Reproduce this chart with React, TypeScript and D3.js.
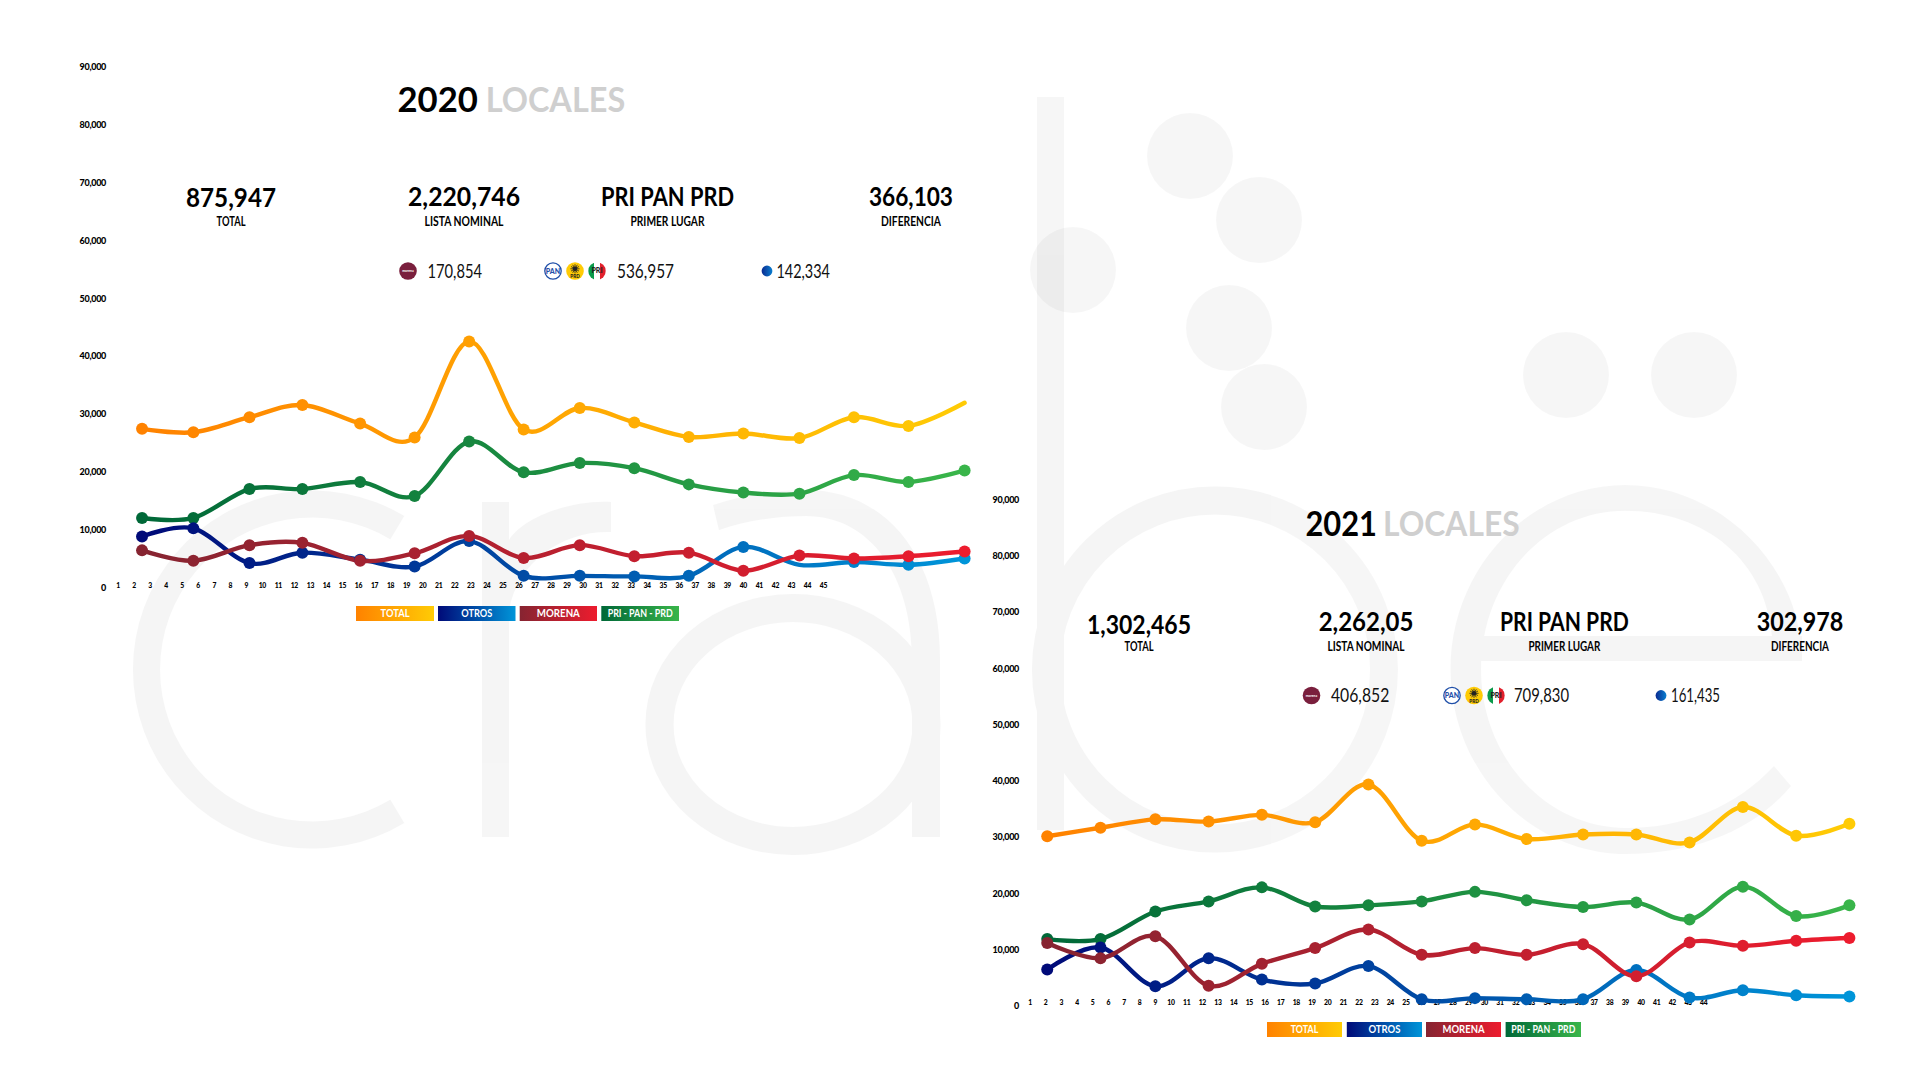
import * as d3 from 'd3';

// series, in thousands of votes
const total2020 = [27.5, 26.9, 29.5, 31.6, 28.4, 26.0, 42.6, 27.4, 31.1, 28.6, 26.1, 26.7, 25.9, 29.5, 28.0, 32.0];
const alianza2020 = [12.1, 12.1, 17.1, 17.1, 18.3, 15.9, 25.3, 20.0, 21.6, 20.7, 17.9, 16.5, 16.3, 19.5, 18.3, 20.3];
const otros2020 = [8.9, 10.3, 4.3, 6.1, 4.9, 3.7, 8.1, 2.1, 2.1, 2.0, 2.1, 7.1, 4.0, 4.5, 4.0, 5.1];
const morena2020 = [6.5, 4.7, 7.4, 7.8, 4.7, 6.0, 9.0, 5.2, 7.4, 5.5, 6.1, 3.0, 5.6, 5.1, 5.5, 6.3];

const total2021 = [30.2, 31.7, 33.2, 32.8, 34.0, 32.7, 39.4, 29.4, 32.3, 29.7, 30.5, 30.5, 29.1, 35.4, 30.3, 32.4];
const alianza2021 = [11.9, 11.9, 16.8, 18.6, 21.1, 17.7, 17.9, 18.6, 20.3, 18.8, 17.6, 18.4, 15.4, 21.2, 16.0, 17.9];
const otros2021 = [6.5, 10.4, 3.5, 8.5, 4.7, 4.0, 7.1, 1.2, 1.4, 1.2, 1.2, 6.4, 1.5, 2.8, 1.9, 1.7];
const morena2021 = [11.2, 8.5, 12.4, 3.6, 7.5, 10.3, 13.6, 9.1, 10.3, 9.1, 11.0, 5.3, 11.3, 10.7, 11.6, 12.1];

// where each point sits along the numbered axis
const slots2020 = [2.5, 5.7, 9.2, 12.5, 16.1, 19.5, 22.9, 26.3, 29.8, 33.2, 36.6, 40, 43.5, 46.9, 50.3, 53.8];
const slots2021 = [2.1, 5.5, 9.0, 12.4, 15.8, 19.2, 22.6, 26.0, 29.4, 32.7, 36.3, 39.7, 43.1, 46.5, 49.9, 53.3];

const yTicks = [0, 10, 20, 30, 40, 50, 60, 70, 80, 90];
const xLabels2020 = d3.range(1, 46);
const xLabels2021 = d3.range(1, 45);

const seriesColors = {
  total: ['#ff8200', '#ffcb05'],
  otros: ['#000a78', '#0095d9'],
  morena: ['#862431', '#ed1c2e'],
  alianza: ['#006838', '#39b54a'],
};
const legendNames = ['TOTAL', 'OTROS', 'MORENA', 'PRI - PAN - PRD'];
const legendKeys = ['total', 'otros', 'morena', 'alianza'] as const;

const FONT = 'Lato, sans-serif';

interface TxtProps {
  x: number;
  y: number;
  w?: number;
  size: number;
  weight?: number;
  fill?: string;
  anchor?: string;
  children: string;
}

function Txt({ x, y, w, size, weight = 700, fill = '#000', anchor = 'middle', children }: TxtProps) {
  return (
    <text
      x={x}
      y={y}
      fontFamily={FONT}
      fontSize={size}
      fontWeight={weight}
      fill={fill}
      textAnchor={anchor}
      textLength={w}
      lengthAdjust={w ? 'spacingAndGlyphs' : undefined}
    >
      {children}
    </text>
  );
}

function Backdrop() {
  const arc = d3.arc();
  const rad = Math.PI / 180;
  const c = arc({ innerRadius: 152, outerRadius: 179, startAngle: 149 * rad, endAngle: 391 * rad } as any) ?? '';
  const dots = [[1190, 156], [1259, 220], [1073, 270], [1229, 328], [1264, 407], [1566, 375], [1694, 375]];
  return (
    <g>
      <g opacity={0.035}>
        <path d={c} transform="translate(312,669.5)" />
      </g>
      <g opacity={0.035}>
        <rect x={482} y={502} width={27} height={335} />
        <path d="M509 540 C525 515,575 500,611 502 L611 532 C565 530,518 560,509 610 Z" />
      </g>
      <g opacity={0.035}>
        <path d="M713 505 C745 495,775 490,806 490 C885 490,940 555,940 660 L940 837 L912 837 L912 660 C912 575,870 516,806 516 C775 516,745 521,719 530 Z" />
        <ellipse cx={793} cy={724.5} rx={133.5} ry={116.5} fill="none" stroke="#000" strokeWidth={28} />
      </g>
      <g opacity={0.035}>
        <rect x={1037} y={97} width={27} height={733} />
        <circle cx={1215} cy={669.5} r={169} fill="none" stroke="#000" strokeWidth={28} />
      </g>
      <g opacity={0.035}>
        <path d="M1791 786 C1755 830,1695 854,1626 854 C1530 854,1450.6 771,1450.6 669.5 C1450.6 568,1530 485,1625 485 C1722 485,1802 568,1802 661 L1772 661 L1772 636 C1766 562,1707 510.7,1625 510.7 C1545 510.7,1481 581,1481 669.5 C1481 757,1546 828,1626 828 C1682 828,1735 808,1774 766 Z" />
        <rect x={1478} y={636} width={324} height={25} />
      </g>
      {dots.map(([cx, cy]) => (
        <circle key={cx} cx={cx} cy={cy} r={43} fill="#000" opacity={0.035} />
      ))}
    </g>
  );
}

function PartyIcons({ cx, cy, gap, id }: { cx: number; cy: number; gap: number; id: string }) {
  const r = 8.8;
  const rays = d3.range(12).map((i) => (i * Math.PI) / 6);
  return (
    <g>
      <circle cx={cx} cy={cy} r={r - 0.6} fill="#fff" stroke="#1f4fa8" strokeWidth={1.3} />
      <text x={cx} y={cy + 2.6} textAnchor="middle" fontFamily={FONT} fontWeight={900} fontSize={7} fill="#1f4fa8">PAN</text>
      <circle cx={cx + gap} cy={cy} r={r} fill="#ffcb05" />
      <circle cx={cx + gap} cy={cy - 2.2} r={2.3} fill="#222" />
      {rays.map((a) => (
        <line
          key={a}
          x1={cx + gap}
          y1={cy - 2.2}
          x2={cx + gap + Math.cos(a) * 4.6}
          y2={cy - 2.2 + Math.sin(a) * 4.6}
          stroke="#222"
          strokeWidth={0.8}
        />
      ))}
      <text x={cx + gap} y={cy + 7} textAnchor="middle" fontFamily={FONT} fontWeight={900} fontSize={4.6} fill="#222">PRD</text>
      <clipPath id={`pri-${id}`}>
        <circle cx={cx + 2 * gap} cy={cy} r={r} />
      </clipPath>
      <g clipPath={`url(#pri-${id})`}>
        <rect x={cx + 2 * gap - r} y={cy - r} width={r * 0.66} height={2 * r} fill="#0a9a4a" />
        <rect x={cx + 2 * gap - r * 0.34} y={cy - r} width={r * 0.68} height={2 * r} fill="#fff" />
        <rect x={cx + 2 * gap + r * 0.34} y={cy - r} width={r * 0.66} height={2 * r} fill="#e2202c" />
      </g>
      <text x={cx + 2 * gap} y={cy + 2.4} textAnchor="middle" fontFamily={FONT} fontWeight={900} fontSize={7} fill="#222">PRI</text>
    </g>
  );
}

interface PanelProps {
  id: string;
  year: string;
  total: number[];
  alianza: number[];
  otros: number[];
  morena: number[];
  slots: number[];
  xLabels: number[];
  layout: any;
  noTotalDot?: number[];
  noOtrosDot?: number[];
}

function Panel({ id, year, total, alianza, otros, morena, slots, xLabels, layout: l, noTotalDot = [], noOtrosDot = [] }: PanelProps) {
  const x = d3.scaleLinear().domain([1, xLabels.length]).range(l.labelRange);
  const y = d3.scaleLinear().domain([0, 90]).range(l.yRange);
  const line = d3
    .line<number>()
    .x((_d, i) => x(slots[i]))
    .y((d) => y(d))
    .curve(d3.curveCatmullRom.alpha(0));
  const fmt = d3.format(',');
  const gradX = [x(slots[0]), x(slots[slots.length - 1])];

  const series = [
    { key: 'total', values: total, skip: noTotalDot },
    { key: 'alianza', values: alianza, skip: [] as number[] },
    { key: 'otros', values: otros, skip: noOtrosDot },
    { key: 'morena', values: morena, skip: [] as number[] },
  ];

  return (
    <g>
      <defs>
        {legendKeys.map((k) => (
          <g key={k}>
            <linearGradient id={`${id}-line-${k}`} gradientUnits="userSpaceOnUse" x1={gradX[0]} x2={gradX[1]} y1={0} y2={0}>
              <stop offset="0" stopColor={seriesColors[k][0]} />
              <stop offset="1" stopColor={seriesColors[k][1]} />
            </linearGradient>
            <linearGradient id={`${id}-box-${k}`}>
              <stop offset="0" stopColor={seriesColors[k][0]} />
              <stop offset="1" stopColor={seriesColors[k][1]} />
            </linearGradient>
          </g>
        ))}
        <linearGradient id={`${id}-dot`}>
          <stop offset="0" stopColor="#0a2a90" />
          <stop offset="1" stopColor="#0a7fd0" />
        </linearGradient>
      </defs>

      {yTicks.map((t) => (
        <text
          key={t}
          x={l.tickX}
          y={y(t) + 3}
          textAnchor="end"
          fontFamily={FONT}
          fontWeight={900}
          fontSize={9}
          letterSpacing={-0.3}
        >
          {t === 0 ? '0' : fmt(t * 1000)}
        </text>
      ))}
      {xLabels.map((d) => (
        <text
          key={d}
          x={x(d)}
          y={l.labelY}
          textAnchor="middle"
          fontFamily={FONT}
          fontWeight={900}
          fontSize={6.8}
          letterSpacing={-0.3}
        >
          {d}
        </text>
      ))}

      {series.map((s) => (
        <path
          key={s.key}
          d={line(s.values) ?? ''}
          fill="none"
          stroke={`url(#${id}-line-${s.key})`}
          strokeWidth={4.4}
          strokeLinecap="round"
        />
      ))}
      {series.map((s) =>
        s.values.map((v, i) =>
          s.skip.includes(i) ? null : (
            <circle key={`${s.key}-${i}`} cx={x(slots[i])} cy={y(v)} r={6} fill={`url(#${id}-line-${s.key})`} />
          ),
        ),
      )}

      <Txt x={l.title[0]} y={l.titleY} w={l.title[1]} size={35} anchor="start">{year}</Txt>
      <Txt x={l.locales[0]} y={l.titleY} w={l.locales[1]} size={35} fill="#cfcfcf" anchor="start">LOCALES</Txt>

      {l.stats.map((s: any) => (
        <g key={s.caption}>
          <Txt x={s.x} y={s.y} w={s.w} size={26}>{s.value}</Txt>
          <Txt x={s.x} y={l.captionY} w={s.capW} size={12.5}>{s.caption}</Txt>
        </g>
      ))}

      <circle cx={l.morenaDot} cy={l.rowY} r={8.8} fill="#7a1f3d" />
      <text x={l.morenaDot} y={l.rowY + 1} textAnchor="middle" fontFamily={FONT} fontWeight={700} fontSize={3.4} fill="#fff">morena</text>
      <PartyIcons cx={l.iconX} cy={l.rowY} gap={22} id={id} />
      <circle cx={l.blueDot} cy={l.rowY} r={5.4} fill={`url(#${id}-dot)`} />
      {l.row.map((r: any) => (
        <Txt key={r.value} x={r.x} y={l.rowY + 6.5} w={r.w} size={19} weight={400} fill="#111" anchor="start">{r.value}</Txt>
      ))}

      {legendKeys.map((k, i) => (
        <g key={k}>
          <rect
            x={l.legend[i][0]}
            y={l.legendY}
            width={l.legend[i][1] - l.legend[i][0]}
            height={15}
            fill={`url(#${id}-box-${k})`}
          />
          <Txt
            x={(l.legend[i][0] + l.legend[i][1]) / 2}
            y={l.legendY + 11.3}
            w={l.legendW[i]}
            size={11.5}
            fill="#fff"
          >
            {legendNames[i]}
          </Txt>
        </g>
      ))}
    </g>
  );
}

const layout2020 = {
  yRange: [588, 67],
  labelRange: [118, 823.5],
  labelY: 588,
  tickX: 106,
  title: [397.5, 80.5],
  locales: [485.7, 139.5],
  titleY: 111.5,
  stats: [
    { x: 231, y: 207, w: 90, value: '875,947', caption: 'TOTAL', capW: 29 },
    { x: 464, y: 205.7, w: 112, value: '2,220,746', caption: 'LISTA NOMINAL', capW: 79 },
    { x: 667.5, y: 205.7, w: 133, value: 'PRI PAN PRD', caption: 'PRIMER LUGAR', capW: 74 },
    { x: 911, y: 205.7, w: 84, value: '366,103', caption: 'DIFERENCIA', capW: 60 },
  ],
  captionY: 226,
  rowY: 271,
  morenaDot: 408,
  iconX: 553,
  blueDot: 767,
  row: [
    { x: 427.5, w: 54.5, value: '170,854' },
    { x: 617, w: 57, value: '536,957' },
    { x: 776.4, w: 53.6, value: '142,334' },
  ],
  legend: [[356, 434], [438, 515.5], [519.7, 597], [601.3, 679]],
  legendW: [29, 31, 43, 65],
  legendY: 606,
};

const layout2021 = {
  yRange: [1006, 500],
  labelRange: [1030, 1703.7],
  labelY: 1005,
  tickX: 1019,
  title: [1305.5, 71.5],
  locales: [1383, 136.6],
  titleY: 535.7,
  stats: [
    { x: 1139, y: 634, w: 104, value: '1,302,465', caption: 'TOTAL', capW: 29 },
    { x: 1366, y: 630.7, w: 94.7, value: '2,262,05', caption: 'LISTA NOMINAL', capW: 77 },
    { x: 1564.4, y: 630.7, w: 128.7, value: 'PRI PAN PRD', caption: 'PRIMER LUGAR', capW: 72 },
    { x: 1800, y: 630.7, w: 86.7, value: '302,978', caption: 'DIFERENCIA', capW: 58 },
  ],
  captionY: 650.7,
  rowY: 695.5,
  morenaDot: 1311.5,
  iconX: 1452,
  blueDot: 1661,
  row: [
    { x: 1331, w: 58.3, value: '406,852' },
    { x: 1514, w: 55, value: '709,830' },
    { x: 1671, w: 49, value: '161,435' },
  ],
  legend: [[1267, 1342], [1346.8, 1422], [1426, 1501], [1505.6, 1581]],
  legendW: [27.5, 32, 42, 64],
  legendY: 1022,
};

export default function App() {
  return (
    <svg
      width={1920}
      height={1080}
      viewBox="0 0 1920 1080"
      style={{ position: 'absolute', left: 0, top: 0, display: 'block', background: '#fff' }}
    >
      <Backdrop />
      <Panel
        id="y20"
        year="2020"
        total={total2020}
        alianza={alianza2020}
        otros={otros2020}
        morena={morena2020}
        slots={slots2020}
        xLabels={xLabels2020}
        layout={layout2020}
        noTotalDot={[15]}
        noOtrosDot={[12]}
      />
      <Panel
        id="y21"
        year="2021"
        total={total2021}
        alianza={alianza2021}
        otros={otros2021}
        morena={morena2021}
        slots={slots2021}
        xLabels={xLabels2021}
        layout={layout2021}
      />
    </svg>
  );
}
